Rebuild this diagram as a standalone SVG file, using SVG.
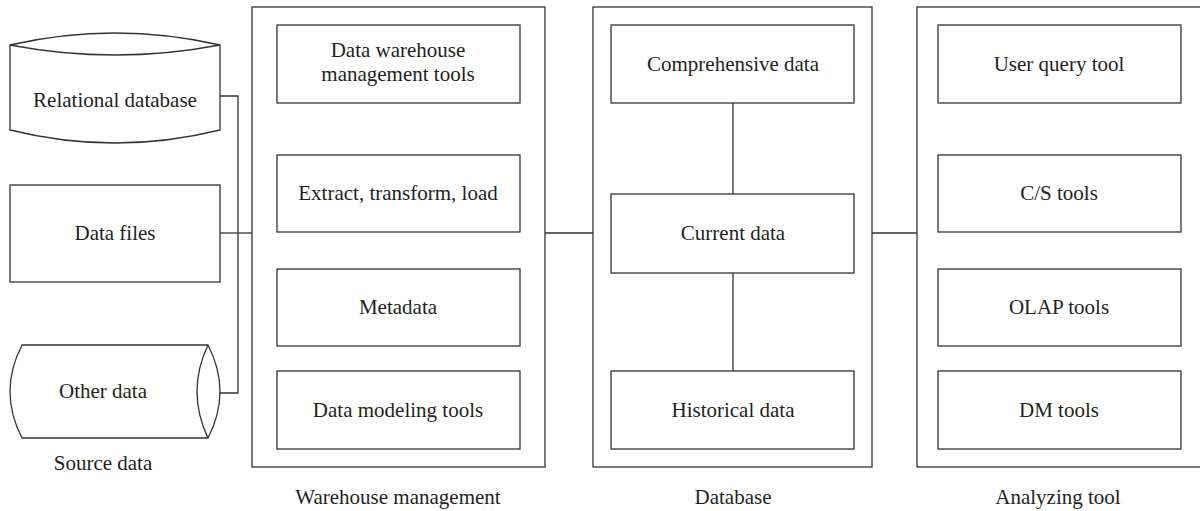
<svg xmlns="http://www.w3.org/2000/svg" width="1200" height="511" viewBox="0 0 1200 511">
<style>
.box{fill:#fff;stroke:#333;stroke-width:1.3}
.shape{fill:none;stroke:#333;stroke-width:1.3}
.con{fill:none;stroke:#333;stroke-width:1.3}
text{font-family:"Liberation Serif","Times New Roman",serif;font-size:21px;fill:#231f20;text-anchor:middle}
</style>
<rect width="1200" height="511" fill="#fff"/>
<g id="group-warehouse"><rect class="box" x="252" y="7" width="293" height="460"/><text x="398" y="504">Warehouse management</text></g>
<g id="group-database"><rect class="box" x="593" y="7" width="279" height="460"/><text x="733" y="504">Database</text></g>
<g id="group-analyzing"><rect class="box" x="917" y="7" width="290" height="460"/><text x="1058" y="504">Analyzing tool</text></g>
<g id="connectors">
<polyline class="con" points="220,96 238,96 238,393 220,393"/>
<line class="con" x1="220" y1="233" x2="252" y2="233"/>
<line class="con" x1="545" y1="233" x2="593" y2="233"/>
<line class="con" x1="872" y1="233" x2="917" y2="233"/>
<line class="con" x1="733" y1="103" x2="733" y2="194"/>
<line class="con" x1="733" y1="273" x2="733" y2="371"/>
</g>
<g id="relational-db">
<path class="box" d="M10,45 Q115,21 220,45 L220,130 Q115,156 10,130 Z"/>
<path class="shape" d="M10,45 Q115,65 220,45"/>
<text x="115" y="107">Relational database</text>
</g>
<g id="data-files"><rect class="box" x="10" y="185" width="210" height="97"/><text x="115" y="240">Data files</text></g>
<g id="other-data">
<path class="box" d="M22,345 L208,345 Q232,391.5 208,438 L22,438 Q-2,391.5 22,345 Z"/>
<path class="shape" d="M208,345 Q186,391.5 208,438"/>
<text x="103" y="398">Other data</text>
</g>
<g id="source-data-label"><text x="103" y="470">Source data</text></g>
<g id="dw-tools"><rect class="box" x="277" y="25" width="243" height="78"/><text x="398" y="57">Data warehouse</text><text x="398" y="81">management tools</text></g>
<g id="etl"><rect class="box" x="277" y="155" width="243" height="77"/><text x="398" y="200">Extract, transform, load</text></g>
<g id="metadata"><rect class="box" x="277" y="269" width="243" height="77"/><text x="398" y="314">Metadata</text></g>
<g id="modeling"><rect class="box" x="277" y="371" width="243" height="78"/><text x="398" y="417">Data modeling tools</text></g>
<g id="comprehensive"><rect class="box" x="611" y="25" width="243" height="78"/><text x="733" y="71">Comprehensive data</text></g>
<g id="current"><rect class="box" x="611" y="194" width="243" height="79"/><text x="733" y="240">Current data</text></g>
<g id="historical"><rect class="box" x="611" y="371" width="243" height="78"/><text x="733" y="417">Historical data</text></g>
<g id="user-query"><rect class="box" x="938" y="25" width="243" height="78"/><text x="1059" y="71">User query tool</text></g>
<g id="cs-tools"><rect class="box" x="938" y="155" width="243" height="77"/><text x="1059" y="200">C/S tools</text></g>
<g id="olap"><rect class="box" x="938" y="269" width="243" height="77"/><text x="1059" y="314">OLAP tools</text></g>
<g id="dm-tools"><rect class="box" x="938" y="371" width="243" height="78"/><text x="1059" y="417">DM tools</text></g>
</svg>
